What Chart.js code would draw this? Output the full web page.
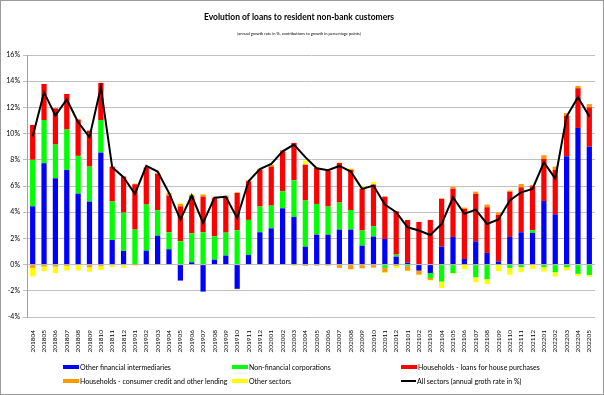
<!DOCTYPE html>
<html>
<head>
<meta charset="utf-8">
<script src="https://cdn.jsdelivr.net/npm/chart.js@4"></script>
<style>
    body { margin: 0; background: #fff; }
    #wrap { position: relative; width: 604px; height: 395px; }
    #frame { position: absolute; left: 0; top: 0; width: 604px; height: 395px; box-sizing: border-box; border: 1px solid #9a9a9a; pointer-events: none; }
    #legend { position: absolute; left: 0; top: 363px; width: 604px; font-family: Lato, sans-serif; font-size: 7px; color: #000; }
    .item { position: absolute; display: flex; align-items: center; white-space: nowrap; }
    .swatch { display: inline-block; width: 16px; height: 4px; margin-right: 1px; }
</style>
</head>
<body>
<div id="wrap">
    <canvas id="loansChart" width="604" height="395"></canvas>
    <div id="legend"></div>
    <div id="frame"></div>
</div>
<script>
// 月（カテゴリ）
const months = [
    '201804', '201805', '201806', '201807', '201808', '201809', '201810', '201811', '201812',
    '201901', '201902', '201903', '201904', '201905', '201906', '201907', '201908', '201909', '201910', '201911', '201912',
    '202001', '202002', '202003', '202004', '202005', '202006', '202007', '202008', '202009', '202010', '202011', '202012',
    '202101', '202102', '202103', '202104', '202105', '202106', '202107', '202108', '202109', '202110', '202111', '202112',
    '202201', '202202', '202203', '202204', '202205'
];

// 寄与度（%ポイント）
const otherFinancial = [
    4.45, 7.74, 6.59, 7.23, 5.42, 4.81, 8.55, 1.88, 1.04,
    0.05, 1.07, 2.21, 1.17, -1.22, 0.18, -2.06, 0.38, 0.69, -1.85, 0.74, 2.47,
    2.77, 4.3, 3.64, 1.37, 2.29, 2.29, 2.67, 2.67, 1.45, 2.14, 1.96, 0.61,
    0.15, -0.46, -0.64, 1.37, 2.11, 0.43, 1.78, 0.89, 0.25, 2.11, 2.47, 2.42,
    4.86, 3.84, 8.27, 10.43, 9.0
];
const nonFinancial = [
    3.55, 3.3, 2.57, 3.08, 2.88, 2.67, 2.49, 2.93, 2.93,
    2.62, 3.51, 1.94, 1.3, 1.78, 2.21, 2.47, 1.78, 1.75, 2.62, 2.67, 1.96,
    1.73, 1.3, 2.8, 3.52, 2.34, 2.14, 2.06, 1.5, 1.15, 0.79, -0.25, 0.15,
    -0.13, 0, -0.38, -1.3, -0.64, 0, -0.97, -1.12, 0, -0.25, -0.2, 0.2,
    -0.2, -0.58, -0.2, -0.7, -0.79
];
const housePurchase = [
    2.66, 2.75, 2.77, 2.72, 2.74, 2.75, 2.83, 2.67, 2.75,
    3.46, 2.8, 2.77, 2.8, 2.67, 2.83, 2.72, 2.9, 2.73, 2.85, 2.95, 2.82,
    2.98, 3.05, 2.85, 2.74, 2.75, 2.75, 3.03, 3.08, 3.18, 3.18, 3.23, 3.31,
    3.26, 3.26, 3.41, 3.64, 3.69, 3.82, 3.61, 3.49, 3.54, 3.44, 3.43, 3.36,
    3.21, 3.39, 3.1, 3.03, 3.0
];
const consumerCredit = [
    -0.25, -0.15, -0.15, -0.1, 0.08, -0.2, -0.1, -0.05, -0.05,
    0.05, 0.08, 0.1, 0.18, 0.18, 0.1, 0.15, 0.05, 0.1, 0.05, 0.05, 0.05,
    0.13, 0.1, -0.05, -0.1, -0.08, -0.08, -0.25, -0.35, -0.28, -0.23, -0.33, -0.1,
    -0.33, -0.3, -0.15, 0.05, 0.13, 0.1, 0.18, 0.2, 0.18, 0.1, 0.25, 0.1,
    0.28, 0.25, 0.2, 0.18, 0.25
];
const otherSectors = [
    -0.65, -0.35, -0.5, -0.35, -0.45, -0.35, -0.3, -0.15, -0.2,
    -0.1, -0.05, -0.05, 0.05, 0.05, 0.05, 0.05, 0.05, -0.05, -0.05, 0.05, 0.05,
    0.05, -0.05, -0.05, 0.3, 0.05, 0.03, 0.03, 0.1, 0.2, 0.2, -0.05, -0.15,
    -0.05, -0.05, -0.05, -0.48, -0.05, -0.35, -0.38, -0.36, -0.5, -0.53, -0.38, -0.33,
    -0.33, -0.33, -0.25, -0.18, -0.13
];
// 全体の伸び率（%）
const allSectors = [
    9.77, 13.15, 11.37, 12.6, 10.87, 9.72, 13.54, 7.43, 6.67,
    5.39, 7.53, 7.1, 5.47, 3.44, 5.27, 3.18, 5.11, 5.17, 3.56, 6.36, 7.3,
    7.68, 8.65, 9.16, 8.2, 7.35, 7.2, 7.53, 7.1, 5.78, 6.03, 4.58, 4.0,
    2.85, 2.6, 2.26, 3.1, 5.14, 3.87, 4.2, 3.1, 3.44, 4.89, 5.52, 5.78,
    7.81, 6.56, 11.3, 12.77, 11.3
];

// 系列名
const seriesNames = [
    'Other financial intermediaries',
    'Non-financial corporations',
    'Households - loans for house purchases',
    'Households - consumer credit and other lending',
    'Other sectors',
    'All sectors (annual groth rate in %)'
];
const seriesColors = ['#0000ff', '#00ff00', '#ff0000', '#ff9900', '#ffff00', '#000000'];
const barSeries = [otherFinancial, nonFinancial, housePurchase, consumerCredit, otherSectors];

const FONT = 'Lato, sans-serif';

function makeBar(i) {
    return {
        type: 'bar',
        label: seriesNames[i],
        data: barSeries[i],
        backgroundColor: seriesColors[i],
        borderWidth: 0,
        barPercentage: 0.46,
        categoryPercentage: 1.0,
        order: 1
    };
}

new Chart(document.getElementById('loansChart').getContext('2d'), {
    data: {
        labels: months,
        datasets: [
            makeBar(0), makeBar(1), makeBar(2), makeBar(3), makeBar(4),
            {
                type: 'line',
                label: seriesNames[5],
                data: allSectors,
                borderColor: seriesColors[5],
                borderWidth: 2,
                pointRadius: 0,
                tension: 0,
                stack: 'total',
                order: 0
            }
        ]
    },
    options: {
        responsive: false,
        animation: false,
        layout: { padding: { left: 3, right: 9, top: 0, bottom: 36 } },
        plugins: {
            legend: { display: false },
            tooltip: { enabled: false },
            title: {
                display: true,
                text: 'Evolution of loans to resident non-bank customers',
                color: '#000',
                font: { family: FONT, size: 8.5, weight: 'bold' },
                padding: { top: 12, bottom: 5 }
            },
            subtitle: {
                display: true,
                text: '(annual growth rate in %, contributions to growth in percentage points)',
                color: '#000',
                font: { family: FONT, size: 4 },
                padding: { top: 4, bottom: 19 }
            }
        },
        scales: {
            x: {
                stacked: true,
                grid: { display: false },
                border: { display: false },
                ticks: {
                    autoSkip: false,
                    maxRotation: 90,
                    minRotation: 90,
                    padding: 5,
                    color: '#000',
                    font: { family: FONT, size: 6.5 }
                },
                afterFit: function(scale) { scale.height = 42; }
            },
            y: {
                stacked: true,
                min: -4,
                max: 16,
                grid: { color: '#c0c0c0', tickLength: 4 },
                border: { color: '#a0a0a0' },
                ticks: {
                    stepSize: 2,
                    padding: 3,
                    color: '#000',
                    font: { family: FONT, size: 7 },
                    callback: function(v) { return v + '%'; }
                },
                afterFit: function(scale) { scale.width = 24; }
            }
        }
    }
});

// 凡例（HTML）
const legendPos = [
    { x: 63, y: 0 }, { x: 232, y: 0 }, { x: 401, y: 0 },
    { x: 63, y: 14 }, { x: 232, y: 14 }, { x: 401, y: 14 }
];
const legendEl = document.getElementById('legend');
seriesNames.forEach(function(name, i) {
    const item = document.createElement('div');
    item.className = 'item';
    item.style.left = legendPos[i].x + 'px';
    item.style.top = legendPos[i].y + 'px';
    const sw = document.createElement('span');
    sw.className = 'swatch';
    sw.style.background = seriesColors[i];
    if (i === 5) { sw.style.height = '2px'; sw.style.width = '15px'; }
    item.appendChild(sw);
    item.appendChild(document.createTextNode(name));
    legendEl.appendChild(item);
});
</script>
</body>
</html>
